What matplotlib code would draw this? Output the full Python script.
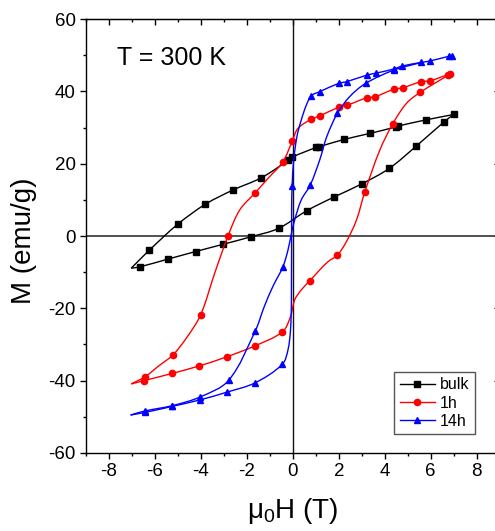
import numpy as np
import matplotlib
matplotlib.use('Agg')
import matplotlib.pyplot as plt
from matplotlib.path import Path
from matplotlib.patches import PathPatch
from matplotlib.lines import Line2D

plt.rcParams['font.family'] = ['Liberation Sans', 'DejaVu Sans']
plt.rcParams['mathtext.default'] = 'regular'
plt.rcParams['axes.unicode_minus'] = False

# ---- bulk (black, squares) ----
bulk_up_x = [-7.03, -6.64, -5.44, -4.23, -3.04, -1.81, -0.62, 0.61, 1.80, 3.00, 4.20, 5.38, 6.59, 7.00]
bulk_up_y = [-8.9, -8.5, -6.4, -4.3, -2.3, -0.2, 2.1, 7.0, 10.8, 14.4, 18.7, 24.9, 31.6, 33.6]
bulk_up_m = [0, 1, 1, 1, 1, 1, 1, 1, 1, 1, 1, 1, 1, 1]
bulk_dn_x = [7.00, 5.79, 4.58, 4.51, 3.38, 2.23, 1.15, 1.02, -0.03, -0.20, -1.37, -2.61, -3.80, -5.00, -6.24, -7.03]
bulk_dn_y = [33.6, 32.1, 30.4, 30.2, 28.4, 26.7, 24.7, 24.5, 21.8, 20.9, 16.1, 12.7, 8.8, 3.3, -3.9, -8.9]
bulk_dn_m = [0, 1, 1, 1, 1, 1, 1, 1, 1, 1, 1, 1, 1, 1, 1, 0]

# ---- 1h (red, circles) ----
h1_up_x = [-7.03, -6.48, -5.25, -4.06, -2.87, -1.66, -0.45, -0.10, 0.08, 0.37, 0.74, 1.17, 1.53,
           1.94, 2.33, 2.77, 3.13, 3.79, 4.34, 4.95, 5.54, 6.77, 6.86]
h1_up_y = [-40.9, -40.0, -38.0, -35.9, -33.4, -30.4, -26.5, -22.3, -17.7, -14.9, -12.4, -9.4, -7.1,
           -5.3, -1.6, 4.4, 12.1, 23.8, 30.9, 36.7, 39.7, 44.5, 44.9]
h1_up_m = [0, 1, 1, 1, 1, 1, 1, 0, 0, 0, 1, 0, 0, 1, 0, 0, 1, 0, 1, 0, 1, 1, 1]
h1_dn_x = [6.86, 5.97, 5.60, 4.78, 4.41, 3.57, 3.21, 2.38, 2.00, 1.17, 0.81, 0.23, -0.02, -0.43,
           -1.01, -1.63, -2.31, -2.82, -3.40, -4.01, -4.64, -5.22, -5.87, -6.42, -7.03]
h1_dn_y = [44.9, 42.9, 42.7, 41.0, 40.6, 38.5, 38.2, 36.2, 35.6, 33.2, 32.3, 29.8, 26.3, 20.5,
           16.4, 12.0, 7.2, 0.0, -10.3, -21.8, -28.3, -32.9, -36.1, -38.9, -40.9]
h1_dn_m = [0, 1, 1, 1, 1, 1, 1, 1, 1, 1, 1, 0, 1, 1, 0, 1, 0, 1, 0, 1, 0, 1, 0, 1, 0]

# ---- 14h (blue, triangles) ----
h14_a_x = [-7.06, -6.45, -5.24, -4.03, -2.88, -1.64, -0.46, -0.21, -0.10, -0.06, -0.05, -0.03, 0.04,
           0.18, 0.37, 0.59, 0.81, 1.17, 2.00, 2.36, 3.23, 3.60, 4.41, 4.76, 5.60, 5.97, 6.80, 6.92]
h14_a_y = [-49.5, -48.8, -47.1, -45.3, -43.2, -40.6, -35.5, -31.5, -26.0, -17.7, 7.2, 13.8, 21.0,
           27.5, 32.1, 36.2, 38.8, 39.9, 42.2, 42.7, 44.5, 45.0, 46.2, 47.0, 48.0, 48.4, 49.7, 49.8]
h14_a_m = [0, 1, 1, 1, 1, 1, 1, 0, 0, 0, 0, 1, 0, 0, 0, 0, 1, 1, 1, 1, 1, 1, 1, 1, 1, 1, 1, 1]
h14_b_x = [-7.06, -6.45, -5.24, -4.03, -2.79, -1.63, -1.24, -0.87, -0.43, -0.21, -0.06, 0.08, 0.37,
           0.76, 1.17, 1.48, 1.94, 2.47, 3.17, 4.41, 5.60]
h14_b_y = [-49.5, -48.4, -46.9, -44.5, -39.9, -26.2, -19.5, -14.0, -8.5, -3.9, 0.7, 4.4, 10.0,
           14.1, 21.0, 27.5, 33.9, 38.5, 42.2, 45.9, 48.0]
h14_b_m = [0, 1, 1, 1, 1, 1, 0, 0, 1, 0, 0, 0, 0, 1, 0, 0, 1, 0, 1, 1, 0]


def smooth_path(ax, x, y):
    # bezier curve through the points (tangents from neighbours, in display space)
    pts = ax.transData.transform(np.column_stack([x, y]))
    n = len(pts)
    verts = [pts[0]]
    codes = [Path.MOVETO]
    for i in range(n - 1):
        p0, p1, p2, p3 = pts[max(i - 1, 0)], pts[i], pts[i + 1], pts[min(i + 2, n - 1)]
        d = np.hypot(*(p2 - p1))
        t1 = p2 - p0
        t2 = p3 - p1
        t1 = t1 / (np.hypot(*t1) or 1)
        t2 = t2 / (np.hypot(*t2) or 1)
        verts += [p1 + t1 * d / 3, p2 - t2 * d / 3, p2]
        codes += [Path.CURVE4] * 3
    verts = ax.transData.inverted().transform(np.array(verts))
    return Path(verts, codes)


fig = plt.figure(figsize=(4.95, 5.31), dpi=100)
ax = fig.add_axes([0.1737, 0.1469, 0.8356, 0.8173])
ax.set_xlim(-9, 9)
ax.set_ylim(-60, 60)

ax.axhline(0, color='#333333', lw=1.2, zorder=1)
ax.axvline(0, color='#111111', lw=1.0, zorder=1)

series = [
    ('black', 's', 3, [(bulk_up_x, bulk_up_y, bulk_up_m), (bulk_dn_x, bulk_dn_y, bulk_dn_m)]),
    ('#ff0000', 'o', 4, [(h1_up_x, h1_up_y, h1_up_m), (h1_dn_x, h1_dn_y, h1_dn_m)]),
    ('#0000ff', '^', 5, [(h14_a_x, h14_a_y, h14_a_m), (h14_b_x, h14_b_y, h14_b_m)]),
]
for color, mk, z, branches in series:
    for bx, by, bm in branches:
        ax.add_patch(PathPatch(smooth_path(ax, bx, by), fill=False, edgecolor=color, lw=1.0, zorder=z))
        sel = np.array(bm, dtype=bool)
        ax.plot(np.array(bx)[sel], np.array(by)[sel], ls='none', marker=mk, ms=4.5,
                color=color, zorder=z + 0.5)

ax.set_xticks(np.arange(-8, 9, 2))
ax.set_xticks(np.arange(-9, 10, 1), minor=True)
ax.set_yticks(np.arange(-60, 61, 20))
ax.set_yticks(np.arange(-60, 61, 10), minor=True)
ax.tick_params(which='both', direction='out', labelsize=13.5, top=False, right=False, pad=3)
ax.tick_params(which='major', length=4.5, width=1)
ax.tick_params(which='minor', length=2.5, width=1)
sec = ax.secondary_xaxis('top')
sec.set_xticks(np.arange(-8, 9, 2))
sec.set_xticks(np.arange(-9, 10, 1), minor=True)
sec.tick_params(which='both', direction='in', labeltop=False)
sec.tick_params(which='major', length=4.5, width=1)
sec.tick_params(which='minor', length=2.5, width=1)
secy = ax.secondary_yaxis('right')
secy.set_yticks(np.arange(-60, 61, 20))
secy.set_yticks(np.arange(-60, 61, 10), minor=True)
secy.tick_params(which='both', direction='in', labelright=False)
secy.tick_params(which='major', length=4.5, width=1)
secy.tick_params(which='minor', length=2.5, width=1)
for s in ax.spines.values():
    s.set_linewidth(1.0)

ax.set_xlabel('μ$_0$H (T)', fontsize=20)
ax.set_ylabel('M (emu/g)', fontsize=20)
ax.xaxis.set_label_coords(0.5, -0.098)
ax.yaxis.set_label_coords(-0.118, 0.49)
ax.text(-7.63, 47.3, 'T = 300 K', fontsize=18, ha='left', va='baseline')

handles = [Line2D([], [], color='black', marker='s', ms=4.5, lw=1.0),
           Line2D([], [], color='#ff0000', marker='o', ms=4.5, lw=1.0),
           Line2D([], [], color='#0000ff', marker='^', ms=4.5, lw=1.0)]
leg = ax.legend(handles, ['bulk', '1h', '14h'], loc='upper left', bbox_to_anchor=(0.745, 0.187),
                fontsize=11.5, frameon=True, fancybox=False, framealpha=1, edgecolor='#555555',
                handlelength=2.2, handletextpad=0.3, labelspacing=0.2, borderpad=0.35,
                borderaxespad=0)
leg.get_frame().set_linewidth(1.0)

fig.savefig('out.png', dpi=100)
